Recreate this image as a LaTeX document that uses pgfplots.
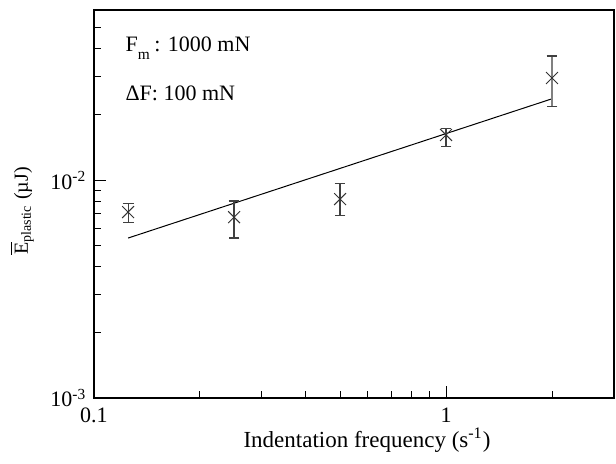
\documentclass[border=0pt]{standalone}
\usepackage{fontspec}
\setmainfont{Liberation Serif}
\usepackage{pgfplots}
\usepackage{pgfplotstable}
\pgfplotsset{compat=1.18}
\pgfplotstableread{
x y ep em
0.125 0.00713 0.00070 0.00072
0.25 0.00676 0.00126 0.00134
0.5 0.00818 0.00150 0.00128
1 0.0161 0.0012 0.0018
}\ptsA
\pgfplotstableread{
x y ep em
2 0.0294 0.0077 0.0076
}\ptsB
\begin{document}
\fontsize{11pt}{13pt}\selectfont
\begin{tikzpicture}
\path[use as bounding box] (-47pt,-33pt) rectangle (261pt,199pt);
\begin{axis}[
  scale only axis, width=260pt, height=194pt,
  xmode=log, ymode=log,
  xmin=0.1, xmax=3, ymin=0.001, ymax=0.0603,
  axis line style={line width=0.6pt},
  tick align=inside, xtick pos=left, ytick pos=left,
  major tick length=6pt, minor tick length=3.5pt,
  tick style={line width=0.5pt, black},
  xtick={0.1,1}, xticklabels={0.1,1},
  minor xtick={0.2,0.3,0.4,0.5,0.6,0.7,0.8,0.9,2},
  ytick={0.001,0.01}, yticklabels={10\textsuperscript{-3},10\textsuperscript{-2}},
  minor ytick={0.002,0.003,0.004,0.005,0.006,0.007,0.008,0.009,0.02,0.03,0.04,0.05,0.06},
  tick label style={font=\fontsize{11pt}{13pt}\selectfont},
  xticklabel style={yshift=-1pt},
  xlabel={Indentation frequency (s\textsuperscript{-1})},
  ylabel={$\overline{\mbox{E}}$\textsubscript{plastic} (µJ)},
  xlabel style={at={(axis description cs:0.525,-0.108)}, anchor=center, font=\fontsize{11.5pt}{13pt}\selectfont},
  ylabel style={at={(axis description cs:-0.138,0.482)}, anchor=center, font=\fontsize{10pt}{12pt}\selectfont},
  clip=false,
]
\addplot[black, line width=0.5pt] coordinates {(0.125,0.00542) (2,0.0236)};
\addplot[only marks, mark=x, mark size=4.2pt, black!80, mark options={line width=0.5pt},
  error bars/.cd, y dir=both, y explicit,
  error bar style={line width=0.6pt, black!75},
  error mark options={rotate=90, mark size=2.7pt, line width=0.6pt, black!75}]
  table[x=x, y=y, y error plus=ep, y error minus=em] {\ptsA};
\addplot[only marks, mark=x, mark size=4.2pt, black!80, mark options={line width=0.5pt},
  error bars/.cd, y dir=both, y explicit,
  error bar style={line width=0.8pt, black!50},
  error mark options={rotate=90, mark size=2.7pt, line width=0.6pt, black!75}]
  table[x=x, y=y, y error plus=ep, y error minus=em] {\ptsB};
\node[anchor=base west, inner sep=0pt] at (rel axis cs:0.06,0.892) {F\textsubscript{\raisebox{-0.6ex}{m}}\,: 1000 mN};
\node[anchor=base west, inner sep=0pt] at (rel axis cs:0.06,0.768) {ΔF: 100 mN};
\end{axis}
\end{tikzpicture}
\end{document}
